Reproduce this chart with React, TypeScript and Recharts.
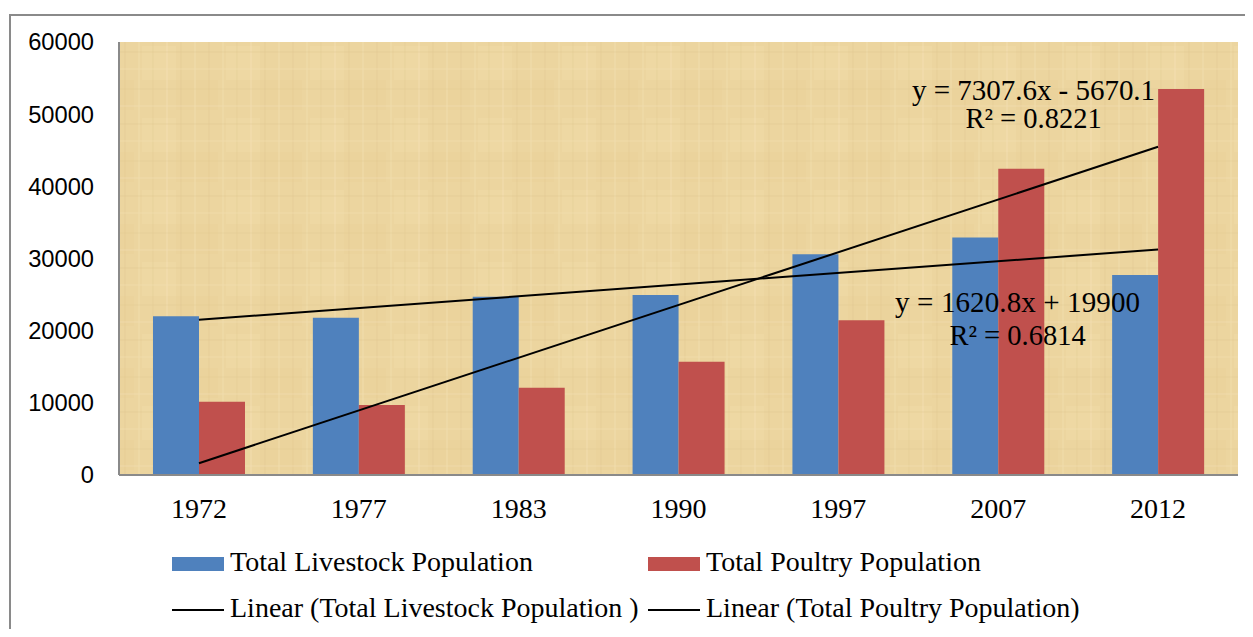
import React from 'react';
import { ComposedChart, Bar, Line, XAxis, YAxis, CartesianGrid, Legend } from 'recharts';

const categories = ['1972', '1977', '1983', '1990', '1997', '2007', '2012'];
const livestock = [22000, 21800, 24700, 24950, 30600, 32900, 27700];
const poultry = [10150, 9700, 12100, 15700, 21450, 42450, 53500];
const livestockTrend: (number | null)[] = [21521, null, null, null, null, null, 31246];
const poultryTrend: (number | null)[] = [1638, null, null, null, null, null, 45483];
const yTicks = [0, 10000, 20000, 30000, 40000, 50000, 60000];
const livestockEq = ['y = 1620.8x + 19900', 'R² = 0.6814'];
const poultryEq = ['y = 7307.6x - 5670.1', 'R² = 0.8221'];
const legendLabels = [
  'Total Livestock Population',
  'Total Poultry Population',
  'Linear (Total Livestock Population )',
  'Linear (Total Poultry Population)',
];

const BLUE = '#4F81BD';
const RED = '#C0504D';
const SERIF = '"Liberation Serif", "Times New Roman", serif';
const SANS = '"Liberation Sans", Arial, sans-serif';

const data = categories.map((c, i) => ({
  year: c,
  livestock: livestock[i],
  poultry: poultry[i],
  lt: livestockTrend[i],
  pt: poultryTrend[i],
}));

const makeEqLabel = (lines: string[], dx: number, dy1: number, dy2: number, len1: number) => (props: any) => {
  const { x, y, index } = props;
  if (index !== categories.length - 1 || x == null || y == null) return null;
  return (
    <g>
      <text
        x={x + dx}
        y={y + dy1}
        textAnchor="middle"
        fontFamily={SERIF}
        fontSize={29}
        fill="#000"
        textLength={len1}
        lengthAdjust="spacing"
      >
        {lines[0]}
      </text>
      <text x={x + dx} y={y + dy2} textAnchor="middle" fontFamily={SERIF} fontSize={28.5} fill="#000">
        {lines[1]}
      </text>
    </g>
  );
};

const renderLegend = () => {
  const textStyle: React.CSSProperties = {
    position: 'absolute',
    fontFamily: SERIF,
    fontSize: 28,
    lineHeight: '32px',
    color: '#000',
    whiteSpace: 'pre',
  };
  return (
    <div style={{ position: 'relative', width: 1237, height: 90 }}>
      <div style={{ position: 'absolute', left: 164, top: 19, width: 52, height: 14, background: BLUE }} />
      <div style={{ ...textStyle, left: 222, top: 8 }}>{legendLabels[0]}</div>
      <div style={{ position: 'absolute', left: 640, top: 19, width: 52, height: 14, background: RED }} />
      <div style={{ ...textStyle, left: 698, top: 8 }}>{legendLabels[1]}</div>
      <div style={{ position: 'absolute', left: 164, top: 71, width: 52, height: 2, background: '#000' }} />
      <div style={{ ...textStyle, left: 222, top: 54 }}>{legendLabels[2]}</div>
      <div style={{ position: 'absolute', left: 640, top: 71, width: 52, height: 2, background: '#000' }} />
      <div style={{ ...textStyle, left: 698, top: 54 }}>{legendLabels[3]}</div>
    </div>
  );
};

export default function App() {
  return (
    <div style={{ position: 'relative', width: 1245, height: 621, overflow: 'hidden', background: '#fff' }}>
      <div
        style={{
          position: 'absolute',
          left: 1,
          top: 6,
          width: 1400,
          height: 800,
          border: '2px solid #8a8a8a',
          boxSizing: 'border-box',
        }}
      />
      <div style={{ position: 'absolute', left: 0, top: 0 }}>
        <ComposedChart
          width={1237}
          height={621}
          data={data}
          margin={{ top: 34, right: 7, bottom: 94, left: 0 }}
          barGap={0}
          barSize={46}
        >
          <defs>
            <pattern id="papyrus" x="0" y="0" width="84" height="72" patternUnits="userSpaceOnUse">
              <rect x="0" y="0" width="84" height="72" fill="#ECD59F" />
              <rect x="0" y="0" width="42" height="30" fill="#E9D199" opacity="0.5" />
              <rect x="50" y="38" width="34" height="34" fill="#F0DBA8" opacity="0.5" />
              <line x1="5" y1="0" x2="5" y2="72" stroke="#DEC58F" strokeWidth="1" opacity="0.5" />
              <line x1="19" y1="0" x2="19" y2="72" stroke="#F3E0B3" strokeWidth="1.5" opacity="0.5" />
              <line x1="33" y1="0" x2="33" y2="72" stroke="#DCC28B" strokeWidth="1" opacity="0.35" />
              <line x1="47" y1="0" x2="47" y2="72" stroke="#F2DFB0" strokeWidth="1.5" opacity="0.45" />
              <line x1="61" y1="0" x2="61" y2="72" stroke="#DDC48D" strokeWidth="1" opacity="0.4" />
              <line x1="75" y1="0" x2="75" y2="72" stroke="#F4E2B6" strokeWidth="1.5" opacity="0.45" />
              <line x1="0" y1="9" x2="84" y2="9" stroke="#DDC48E" strokeWidth="1" opacity="0.35" />
              <line x1="0" y1="26" x2="84" y2="26" stroke="#F3E0B3" strokeWidth="1.5" opacity="0.4" />
              <line x1="0" y1="44" x2="84" y2="44" stroke="#DBC18A" strokeWidth="1" opacity="0.35" />
              <line x1="0" y1="61" x2="84" y2="61" stroke="#F2DFB1" strokeWidth="1.5" opacity="0.4" />
            </pattern>
          </defs>
          <CartesianGrid horizontal={false} vertical={false} fill="url(#papyrus)" />
          <XAxis
            dataKey="year"
            height={60}
            tickLine={false}
            tickSize={0}
            tickMargin={23}
            axisLine={{ stroke: '#8a8a8a', strokeWidth: 2 }}
            tick={{ fontFamily: SERIF, fontSize: 28, fill: '#000' }}
            interval={0}
          />
          <YAxis
            width={111}
            domain={[0, 60000]}
            ticks={yTicks}
            tickLine={false}
            tickSize={0}
            tickMargin={25}
            axisLine={{ stroke: '#8a8a8a', strokeWidth: 2 }}
            tick={{ fontFamily: SANS, fontSize: 23.7, fill: '#000' }}
            interval={0}
          />
          <Bar dataKey="livestock" fill={BLUE} isAnimationActive={false} />
          <Bar dataKey="poultry" fill={RED} isAnimationActive={false} />
          <Line
            dataKey="lt"
            stroke="#000"
            strokeWidth={2}
            dot={false}
            activeDot={false}
            connectNulls
            isAnimationActive={false}
            label={makeEqLabel(livestockEq, -140.5, 62, 95.5, 245)}
          />
          <Line
            dataKey="pt"
            stroke="#000"
            strokeWidth={2}
            dot={false}
            activeDot={false}
            connectNulls
            isAnimationActive={false}
            label={makeEqLabel(poultryEq, -124.5, -47, -19, 243)}
          />
          <Legend
            layout="horizontal"
            verticalAlign="middle"
            align="center"
            wrapperStyle={{ left: 0, top: 530, width: 1237, height: 90 }}
            content={renderLegend}
          />
        </ComposedChart>
      </div>
    </div>
  );
}
